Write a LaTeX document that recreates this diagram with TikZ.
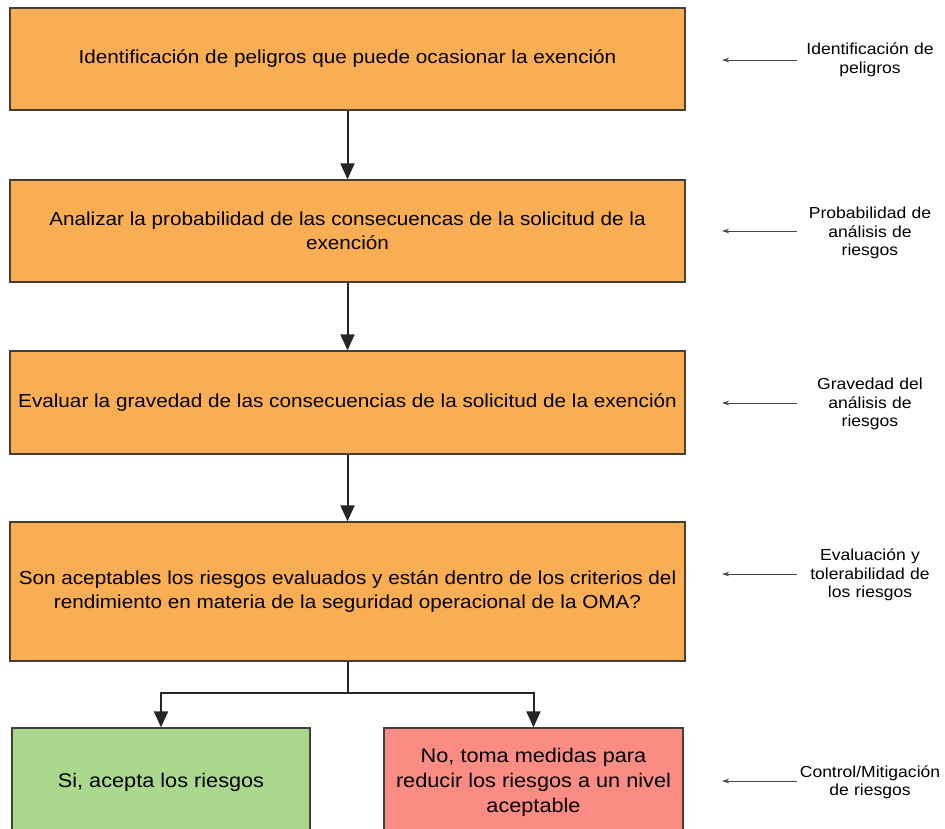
\documentclass[tikz,border=0pt]{standalone}
\usepackage{fontspec}
\setmainfont{Liberation Sans}[FakeStretch=1.1]
\usetikzlibrary{arrows.meta}
\definecolor{boxorange}{RGB}{250,174,84}
\definecolor{boxgreen}{RGB}{170,217,142}
\definecolor{boxred}{RGB}{250,140,132}
\definecolor{boxline}{RGB}{70,62,58}
\definecolor{sidegray}{RGB}{70,70,70}
\begin{document}
\begin{tikzpicture}[x=1bp,y=-1bp,
  stepbox/.style={draw=boxline, line width=1.3bp, fill=boxorange, minimum width=675bp,
    align=center, inner sep=0pt, font=\fontsize{18.9}{24.5}\selectfont},
  endbox/.style={draw=boxline, line width=1.3bp, minimum width=298bp, minimum height=108bp,
    align=center, inner sep=0pt, font=\fontsize{19.8}{25}\selectfont},
  flow/.style={line width=2bp, draw=black!85, -{Triangle[length=16bp,width=14bp]}},
  trunk/.style={line width=2bp, draw=black!85},
  sidelabel/.style={align=center, text width=146bp, inner sep=0pt,
    font=\fontsize{16}{18.5}\selectfont},
  sidearrow/.style={line width=0.9bp, draw=sidegray, -{Stealth[length=7bp,width=4.5bp]}}
]
\useasboundingbox (0,0) rectangle (945,829);
\clip (0,0) rectangle (945,829);

\node[stepbox, minimum height=102bp] (b1) at (347.5,59)
  {Identificación de peligros que puede ocasionar la exención};
\node[stepbox, minimum height=102bp] (b2) at (347.5,231)
  {Analizar la probabilidad de las consecuencas de la solicitud de la\\exención};
\node[stepbox, minimum height=103bp] (b3) at (347.5,402.5)
  {Evaluar la gravedad de las consecuencias de la solicitud de la exención};
\node[stepbox, minimum height=139bp] (b4) at (347.5,591.5)
  {Son aceptables los riesgos evaluados y están dentro de los criterios del\\rendimiento en materia de la seguridad operacional de la OMA?};
\node[endbox, fill=boxgreen] (yes) at (161,782) {Si, acepta los riesgos};
\node[endbox, fill=boxred, minimum width=299bp] (no) at (533.5,782)
  {No, toma medidas para\\reducir los riesgos a un nivel\\aceptable};

\draw[flow] (b1) -- (b2);
\draw[flow] (b2) -- (b3);
\draw[flow] (b3) -- (b4);
\coordinate (split) at (347.5,693);
\draw[trunk] (b4.south) -- (split);
\draw[flow] (split) -| (yes.north);
\draw[flow] (split) -| (no.north);

\node[sidelabel] (l1) at (870,60) {Identificación de\\peligros};
\node[sidelabel] (l2) at (870,233) {Probabilidad de\\análisis de\\riesgos};
\node[sidelabel] (l3) at (870,404) {Gravedad del\\análisis de\\riesgos};
\node[sidelabel] (l4) at (870,575) {Evaluación y\\tolerabilidad de\\los riesgos};
\node[sidelabel] (l5) at (870,782) {Control/Mitigación\\de riesgos};

\coordinate (t1) at (722,60);
\coordinate (t2) at (722,231);
\coordinate (t3) at (722,403);
\coordinate (t4) at (722,574);
\coordinate (t5) at (722,781);
\draw[sidearrow] (l1.west |- t1) -- (t1);
\draw[sidearrow] (l2.west |- t2) -- (t2);
\draw[sidearrow] (l3.west |- t3) -- (t3);
\draw[sidearrow] (l4.west |- t4) -- (t4);
\draw[sidearrow] (l5.west |- t5) -- (t5);
\end{tikzpicture}
\end{document}
